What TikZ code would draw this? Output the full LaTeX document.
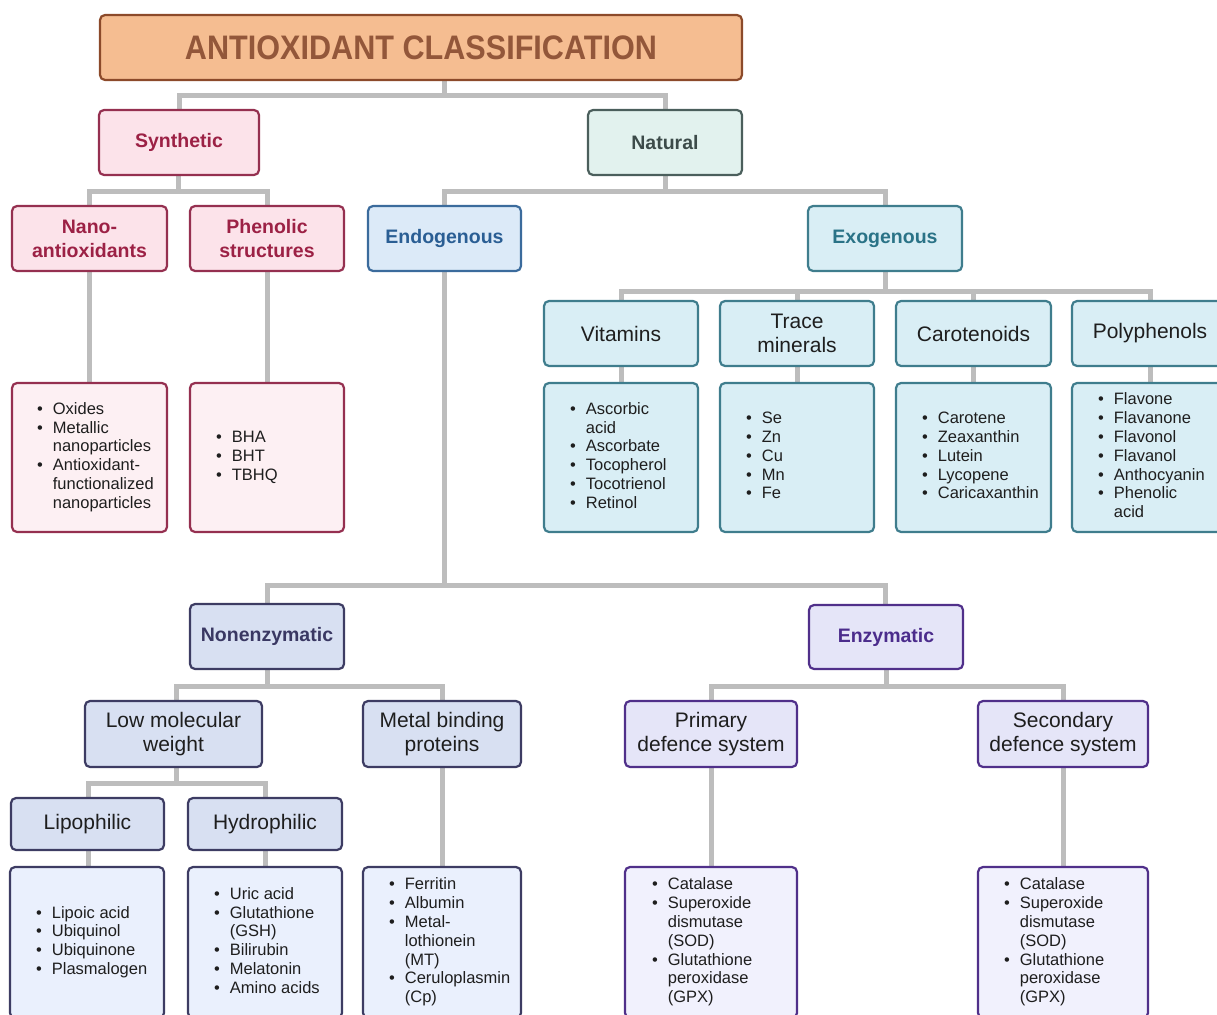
\documentclass[tikz,border=0pt]{standalone}
\usepackage{fontspec}
\usepackage{graphicx}
\setmainfont{Liberation Sans}
\usetikzlibrary{backgrounds}

% palette
\definecolor{txt}{HTML}{1E1E1E}
\definecolor{linkgray}{HTML}{BDBDBD}
\definecolor{titlefill}{HTML}{F5BD91}
\definecolor{titledraw}{HTML}{8C4A2A}
\definecolor{titletext}{HTML}{93573A}
\definecolor{synfill}{HTML}{FCE3EA}
\definecolor{synlistfill}{HTML}{FDF0F3}
\definecolor{syndraw}{HTML}{953050}
\definecolor{syntext}{HTML}{9C2145}
\definecolor{natfill}{HTML}{E2F2EE}
\definecolor{natdraw}{HTML}{4B5F5C}
\definecolor{nattext}{HTML}{3C4B49}
\definecolor{endofill}{HTML}{DCEAF8}
\definecolor{endodraw}{HTML}{3B6B9C}
\definecolor{endotext}{HTML}{2A5E94}
\definecolor{exofill}{HTML}{D9EEF5}
\definecolor{exodraw}{HTML}{3F7D8D}
\definecolor{exotext}{HTML}{2A7387}
\definecolor{nonfill}{HTML}{D8E0F2}
\definecolor{nonlistfill}{HTML}{EAF0FD}
\definecolor{nondraw}{HTML}{3D3C63}
\definecolor{nontext}{HTML}{3A3863}
\definecolor{enzfill}{HTML}{E5E5F8}
\definecolor{enzlistfill}{HTML}{F1F1FD}
\definecolor{enzdraw}{HTML}{50308A}
\definecolor{enztext}{HTML}{4B2C8C}

% bulleted list: bullet column + item column
\newcommand\bul{\textbullet}
\newenvironment{blist}{\begin{tabular}{@{}c@{\hspace{10pt}}l@{}}}{\end{tabular}}

\tikzset{
  box/.style={draw, rounded corners=5pt, line width=2.2pt, inner sep=0pt, align=center, text=txt},
  hdr/.style={box, font=\fontsize{19.5}{24}\selectfont\bfseries},
  lbl/.style={box, font=\fontsize{21}{24}\selectfont},
  listbox/.style={box},
  items/.style={anchor=west, inner sep=0pt, font=\fontsize{16.5}{18.8}\selectfont, text=txt},
  sz/.style 2 args={minimum width=#1pt, minimum height=#2pt},
  syn/.style={fill=synfill, draw=syndraw, text=syntext},
  synl/.style={fill=synlistfill, draw=syndraw},
  nat/.style={fill=natfill, draw=natdraw, text=nattext},
  endo/.style={fill=endofill, draw=endodraw, text=endotext},
  exo/.style={fill=exofill, draw=exodraw, text=exotext},
  exol/.style={fill=exofill, draw=exodraw},
  non/.style={fill=nonfill, draw=nondraw, text=nontext},
  nonl/.style={fill=nonlistfill, draw=nondraw},
  enz/.style={fill=enzfill, draw=enzdraw, text=enztext},
  enzl/.style={fill=enzlistfill, draw=enzdraw},
  conn/.style={draw=linkgray, line width=5pt},
}

\begin{document}
\begin{tikzpicture}[x=1pt, y=-1pt]
\useasboundingbox (0,0) rectangle (1217,1014);

% title
\node[box, sz={642}{65}, fill=titlefill, draw=titledraw, text=titletext] (title) at (421,47.5)
  {\scalebox{0.9}[1]{\fontsize{34}{34}\selectfont\bfseries ANTIOXIDANT CLASSIFICATION}};

% first level
\node[hdr, syn, sz={160}{65}] (synth) at (179,142.5) {Synthetic};
\node[hdr, nat, sz={154}{65}] (natural) at (665,142.5) {Natural};

% synthetic branch
\node[hdr, syn, sz={155}{65}] (nano) at (89.5,238.5) {Nano-\\antioxidants};
\node[hdr, syn, sz={154}{65}] (phen) at (267,238.5) {Phenolic\\structures};
\node[listbox, synl, sz={155}{149}] (nanol) at (89.5,457.5) {};
\node[listbox, synl, sz={154}{149}] (phenl) at (267,457.5) {};
\node[items] (nanot) at ([xshift=26pt]nanol.west)
  {\begin{blist}\bul & Oxides\\ \bul & Metallic\\ & nanoparticles\\ \bul & Antioxidant-\\ & functionalized\\ & nanoparticles\end{blist}};
\node[items] (phent) at ([xshift=27pt]phenl.west)
  {\begin{blist}\bul & BHA\\ \bul & BHT\\ \bul & TBHQ\end{blist}};

% natural branch
\node[hdr, endo, sz={153}{65}] (endog) at (444.5,238.5) {Endogenous};
\node[hdr, exo, sz={154}{65}] (exog) at (885,238.5) {Exogenous};

% exogenous groups
\node[lbl, exo, text=txt, sz={154}{65}] (vit) at (621,333.5) {Vitamins};
\node[lbl, exo, text=txt, sz={154}{65}] (trace) at (797,333.5) {Trace\\minerals};
\node[lbl, exo, text=txt, sz={155}{65}] (carot) at (973.5,333.5) {Carotenoids};
\node[lbl, exo, text=txt, sz={156}{65}] (poly) at (1150,333.5) {Polyphenols};
\node[listbox, exol, sz={154}{149}] (vitl) at (621,457.5) {};
\node[listbox, exol, sz={154}{149}] (tracel) at (797,457.5) {};
\node[listbox, exol, sz={155}{149}] (carotl) at (973.5,457.5) {};
\node[listbox, exol, sz={156}{149}] (polyl) at (1150,457.5) {};
\node[items] (vitt) at ([xshift=27pt]vitl.west)
  {\begin{blist}\bul & Ascorbic\\ & acid\\ \bul & Ascorbate\\ \bul & Tocopherol\\ \bul & Tocotrienol\\ \bul & Retinol\end{blist}};
\node[items] (tracet) at ([xshift=27pt]tracel.west)
  {\begin{blist}\bul & Se\\ \bul & Zn\\ \bul & Cu\\ \bul & Mn\\ \bul & Fe\end{blist}};
\node[items] (carott) at ([xshift=27pt]carotl.west)
  {\begin{blist}\bul & Carotene\\ \bul & Zeaxanthin\\ \bul & Lutein\\ \bul & Lycopene\\ \bul & Caricaxanthin\end{blist}};
\node[items] (polyt) at ([xshift=27pt]polyl.west)
  {\begin{blist}\bul & Flavone\\ \bul & Flavanone\\ \bul & Flavonol\\ \bul & Flavanol\\ \bul & Anthocyanin\\ \bul & Phenolic\\ & acid\end{blist}};

% endogenous branch
\node[hdr, non, sz={154}{65}] (nonenz) at (267,636.5) {Nonenzymatic};
\node[hdr, enz, sz={154}{64}] (enzym) at (886,637) {Enzymatic};

\node[lbl, non, text=txt, sz={177}{66}] (lmw) at (173.5,734) {Low molecular\\weight};
\node[lbl, non, text=txt, sz={158}{66}] (metal) at (442,734) {Metal binding\\proteins};
\node[lbl, non, text=txt, sz={153}{52}] (lipo) at (87.5,824) {Lipophilic};
\node[lbl, non, text=txt, sz={154}{52}] (hydro) at (265,824) {Hydrophilic};
\node[lbl, enz, text=txt, sz={172}{66}] (prim) at (711,734) {Primary\\defence system};
\node[lbl, enz, text=txt, sz={170}{66}] (secd) at (1063,734) {Secondary\\defence system};

\node[listbox, nonl, sz={154}{151}] (lipol) at (87,942.5) {};
\node[listbox, nonl, sz={154}{151}] (hydrol) at (265,942.5) {};
\node[listbox, nonl, sz={158}{151}] (metall) at (442,942.5) {};
\node[listbox, enzl, sz={172}{151}] (priml) at (711,942.5) {};
\node[listbox, enzl, sz={170}{151}] (secl) at (1063,942.5) {};
\node[items] (lipot) at ([xshift=27pt]lipol.west)
  {\begin{blist}\bul & Lipoic acid\\ \bul & Ubiquinol\\ \bul & Ubiquinone\\ \bul & Plasmalogen\end{blist}};
\node[items] (hydrot) at ([xshift=27pt]hydrol.west)
  {\begin{blist}\bul & Uric acid\\ \bul & Glutathione\\ & (GSH)\\ \bul & Bilirubin\\ \bul & Melatonin\\ \bul & Amino acids\end{blist}};
\node[items] (metalt) at ([xshift=27pt]metall.west)
  {\begin{blist}\bul & Ferritin\\ \bul & Albumin\\ \bul & Metal-\\ & lothionein\\ & (MT)\\ \bul & Ceruloplasmin\\ & (Cp)\end{blist}};
\node[items] (primt) at ([xshift=28pt]priml.west)
  {\begin{blist}\bul & Catalase\\ \bul & Superoxide\\ & dismutase\\ & (SOD)\\ \bul & Glutathione\\ & peroxidase\\ & (GPX)\end{blist}};
\node[items] (sect) at ([xshift=27pt]secl.west)
  {\begin{blist}\bul & Catalase\\ \bul & Superoxide\\ & dismutase\\ & (SOD)\\ \bul & Glutathione\\ & peroxidase\\ & (GPX)\end{blist}};

% junction points of the tree
\coordinate (jtop) at (444,96);
\coordinate (jsyn) at (178,191);
\coordinate (jnat) at (665,191);
\coordinate (jexo) at (885,291);
\coordinate (jendo) at (444,585);
\coordinate (jnon) at (267,686);
\coordinate (jlmw) at (176,783);
\coordinate (jenz) at (886,686);

% connectors, behind the boxes
\begin{scope}[on background layer]
  \draw[conn] (title.south -| jtop) -- (jtop);
  \draw[conn] (synth.north) |- (jtop) -| (natural.north);

  \draw[conn] (synth.south -| jsyn) -- (jsyn);
  \draw[conn] (nano.north -| 89,0) |- (jsyn) -| (phen.north);
  \draw[conn] (nano.south -| 89,0) -- (nanol.north -| 89,0);
  \draw[conn] (phen.south) -- (phenl.north);

  \draw[conn] (natural.south) -- (jnat);
  \draw[conn] (endog.north -| jtop) |- (jnat) -| (exog.north);

  \draw[conn] (exog.south) -- (jexo);
  \draw[conn] (vit.north) |- (jexo) -| (poly.north);
  \draw[conn] (trace.north) -- (trace.north |- jexo);
  \draw[conn] (carot.north) -- (carot.north |- jexo);
  \draw[conn] (vit.south) -- (vitl.north);
  \draw[conn] (trace.south) -- (tracel.north);
  \draw[conn] (carot.south) -- (carotl.north);
  \draw[conn] (poly.south) -- (polyl.north);

  \draw[conn] (endog.south -| jendo) -- (jendo);
  \draw[conn] (nonenz.north) |- (jendo) -| (enzym.north -| exog.north);

  \draw[conn] (nonenz.south) -- (jnon);
  \draw[conn] (lmw.north -| jlmw) |- (jnon) -| (metal.north);
  \draw[conn] (lmw.south -| jlmw) -- (jlmw);
  \draw[conn] (lipo.north -| 88,0) |- (jlmw) -| (hydro.north);
  \draw[conn] (lipo.south -| 88,0) -- (lipol.north -| 88,0);
  \draw[conn] (hydro.south) -- (hydrol.north);
  \draw[conn] (metal.south) -- (metall.north);

  \draw[conn] (enzym.south) -- (jenz);
  \draw[conn] (prim.north) |- (jenz) -| (secd.north);
  \draw[conn] (prim.south) -- (priml.north);
  \draw[conn] (secd.south) -- (secl.north);
\end{scope}
\end{tikzpicture}
\end{document}
